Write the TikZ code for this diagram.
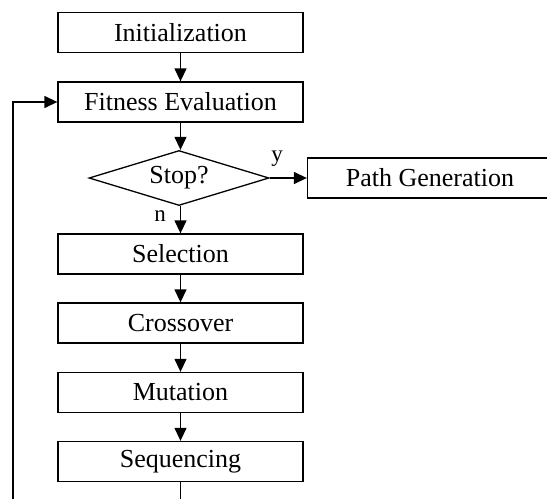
\documentclass[tikz,border=0pt]{standalone}
\usepackage{fontspec}
\setmainfont{Liberation Serif}
\usetikzlibrary{arrows.meta,shapes.geometric}
\begin{document}
\begin{tikzpicture}[x=1pt,y=-1pt,
  line width=1.3pt,
  every node/.style={font=\fontsize{26}{30}\selectfont},
  procbox/.style={draw,rectangle,minimum width=245pt,minimum height=40pt,inner sep=0pt},
  decbox/.style={draw,diamond,aspect=3.27,minimum width=180pt,minimum height=55pt,inner sep=0pt},
  arr/.style={-{Triangle[length=13pt,width=12pt]}},
  lab/.style={font=\fontsize{23}{26}\selectfont,inner sep=0pt}]
\useasboundingbox (0,0) rectangle (547,499);
\node[procbox] (init) at (180.5,32.5) {Initialization};
\node[procbox] (fit) at (180.5,102) {Fitness Evaluation};
\node[decbox] (stop) at (179,178) {Stop?};
\node[procbox] (path) at (430,178) {Path Generation};
\node[procbox] (sel) at (180.5,254) {Selection};
\node[procbox] (cross) at (180.5,323) {Crossover};
\node[procbox] (mut) at (180.5,392.5) {Mutation};
\node[procbox] (seq) at (180.5,461.5) {Sequencing};
\node[lab] (ylab) at (277,159) {y};
\node[lab] (nlab) at (160,216) {n};
\coordinate (b1) at (180.5,499);
\coordinate (b2) at (13,499);
\draw[arr] (init) -- (fit);
\draw[arr] (fit) -- (fit.south |- stop.north);
\draw[arr] (stop) -- (path);
\draw[arr] (fit.south |- stop.south) -- (sel);
\draw[arr] (sel) -- (cross);
\draw[arr] (cross) -- (mut);
\draw[arr] (mut) -- (seq);
\draw (seq) -- (b1);
\draw[arr] (b2) |- (fit.west);
\end{tikzpicture}
\end{document}
